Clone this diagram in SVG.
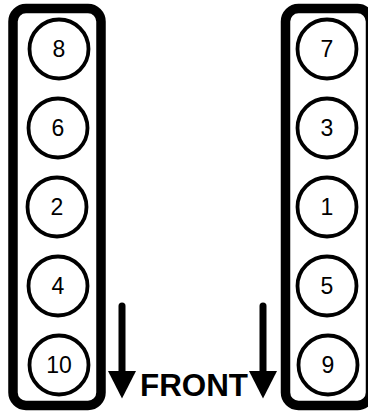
<svg xmlns="http://www.w3.org/2000/svg" width="368" height="411" viewBox="0 0 368 411">
<style>
.bank{fill:none;stroke:#000;stroke-width:9.5}
.cyl{fill:#fff;stroke:#000;stroke-width:3.8}
.num{font-family:"Liberation Sans",Arial,sans-serif;font-size:23px;fill:#000;text-anchor:middle}
.front{font-family:"Liberation Sans",Arial,sans-serif;font-size:31px;font-weight:bold;fill:#000}
.shaft{stroke:#000;stroke-width:7;stroke-linecap:round}
.head{fill:#000}
</style>
<rect width="368" height="411" fill="#fff"/>
<g id="bank-left"><rect class="bank" x="13" y="8.5" width="88" height="397" rx="13"/></g>
<g id="bank-right"><rect class="bank" x="285.5" y="8.5" width="85" height="397" rx="13"/></g>
<g id="cyl-8"><circle class="cyl" cx="59" cy="49" r="29.5"/><text class="num" x="59" y="57">8</text></g>
<g id="cyl-6"><circle class="cyl" cx="58" cy="128" r="29.5"/><text class="num" x="58" y="136">6</text></g>
<g id="cyl-2"><circle class="cyl" cx="57" cy="207" r="29.5"/><text class="num" x="57" y="215">2</text></g>
<g id="cyl-4"><circle class="cyl" cx="58" cy="286" r="29.5"/><text class="num" x="58" y="294">4</text></g>
<g id="cyl-10"><circle class="cyl" cx="59" cy="365" r="29.5"/><text class="num" x="59" y="373">10</text></g>
<g id="cyl-7"><circle class="cyl" cx="327" cy="49" r="29.5"/><text class="num" x="327" y="57">7</text></g>
<g id="cyl-3"><circle class="cyl" cx="327" cy="128" r="29.5"/><text class="num" x="327" y="136">3</text></g>
<g id="cyl-1"><circle class="cyl" cx="327" cy="207" r="29.5"/><text class="num" x="327" y="215">1</text></g>
<g id="cyl-5"><circle class="cyl" cx="327" cy="286" r="29.5"/><text class="num" x="327" y="294">5</text></g>
<g id="cyl-9"><circle class="cyl" cx="328" cy="365" r="29.5"/><text class="num" x="328" y="373">9</text></g>
<g id="connectors">
<line class="shaft" x1="122" y1="306" x2="122" y2="374"/>
<polygon class="head" points="108,371 136,371 122,398.5"/>
<line class="shaft" x1="263" y1="306" x2="263" y2="374"/>
<polygon class="head" points="249,371 277,371 263,398.5"/>
</g>
<g id="label-front"><text class="front" x="140" y="396" textLength="108" lengthAdjust="spacingAndGlyphs">FRONT</text></g>
</svg>
